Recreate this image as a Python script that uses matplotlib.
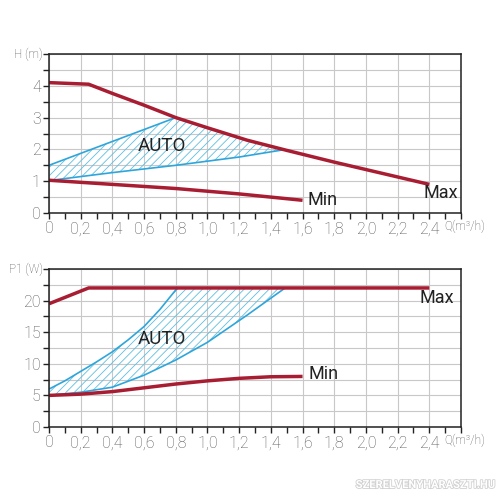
import numpy as np
from matplotlib import pyplot as plt
from matplotlib import patheffects as pe

plt.rcParams['font.family'] = ['Roboto', 'DejaVu Sans']
plt.rcParams['hatch.linewidth'] = 0.6

RED = "#a81d32"
BLUE = "#2ea6dc"
HATCH = "#5fbfe2"
GRID = "#c8c8c8"
TXT = "#555555"

# head chart
h_max_q = [0, 0.25, 0.4, 0.6, 0.8, 1.0, 1.25, 1.5, 1.8, 2.1, 2.4]
h_max = [4.1, 4.05, 3.76, 3.39, 3.0, 2.68, 2.29, 1.97, 1.6, 1.25, 0.9]
h_min_q = [0, 0.4, 0.8, 1.2, 1.6]
h_min = [1.03, 0.9, 0.77, 0.6, 0.4]
h_auto_hi_q = [0, 0.8]
h_auto_hi = [1.5, 3.0]
h_auto_lo_q = [0, 0.4, 0.8, 1.2, 1.47]
h_auto_lo = [1.02, 1.27, 1.5, 1.76, 1.98]

# power chart
p_max_q = [0, 0.25, 2.4]
p_max = [19.5, 22, 22]
p_min_q = [0, 0.2, 0.4, 0.6, 0.8, 1.0, 1.2, 1.4, 1.6]
p_min = [5.0, 5.2, 5.6, 6.2, 6.8, 7.3, 7.7, 7.95, 8.0]
p_auto_hi_q = [0, 0.1, 0.2, 0.3, 0.4, 0.5, 0.6, 0.7, 0.81]
p_auto_hi = [6.0, 7.3, 8.8, 10.3, 11.9, 13.8, 15.9, 18.6, 22.0]
p_auto_lo_q = [0, 0.2, 0.4, 0.6, 0.8, 1.0, 1.25, 1.49]
p_auto_lo = [5.0, 5.5, 6.3, 8.2, 10.6, 13.4, 17.7, 22.0]

x_ticks = np.round(np.arange(0, 2.41, 0.2), 1)
x_labels = [f"{v:.1f}".replace(".", ",") if v > 0 else "0" for v in x_ticks]


def style_axes(ax, ymax, ystep, ylab):
    ax.set_xlim(0, 2.6)
    ax.set_ylim(0, ymax)
    ax.set_xticks(x_ticks)
    ax.set_xticklabels(x_labels)
    ax.set_xticks(np.arange(0, 2.61, 0.1), minor=True)
    ax.set_yticks(np.arange(0, ymax - 0.01, ystep))
    ax.set_yticks(np.arange(0, ymax + 0.01, ystep / 2), minor=True)
    ax.grid(True, which="major", axis="x", color=GRID, lw=0.8)
    ax.grid(True, which="both", axis="y", color=GRID, lw=0.8)
    ax.set_axisbelow(True)
    ax.tick_params(which="both", direction="out", length=4, width=1,
                   colors="#222222", labelcolor=TXT, labelsize=11.5, pad=2)
    for lab in ax.get_xticklabels() + ax.get_yticklabels():
        lab.set_fontweight("light")
    for s in ax.spines.values():
        s.set_color("#222222")
        s.set_linewidth(1.1)
    ax.text(-0.015, 1.0, ylab, transform=ax.transAxes, ha="right",
            va="center", fontsize=8.5, color=TXT, fontweight="light")
    ax.text(2.495, -0.082 * ymax, "Q(m³/h)", ha="left", va="center",
            fontsize=8.5, color=TXT, fontweight="light")


fig = plt.figure(figsize=(5, 5), dpi=100)
ax1 = fig.add_axes([0.098, 0.574, 0.824, 0.318])
ax2 = fig.add_axes([0.098, 0.146, 0.824, 0.316])

# top: H(Q)
qq = np.linspace(0, 1.47, 200)
top = np.where(qq <= 0.8, np.interp(qq, h_auto_hi_q, h_auto_hi),
               np.interp(qq, h_max_q, h_max))
bot = np.interp(qq, h_auto_lo_q, h_auto_lo)
ax1.fill_between(qq, bot, top, facecolor="none", edgecolor=HATCH,
                 hatch="////", linewidth=0)
ax1.plot(h_auto_hi_q, h_auto_hi, color=BLUE, lw=1.2)
ax1.plot(h_auto_lo_q, h_auto_lo, color=BLUE, lw=1.2)
ax1.plot(h_max_q, h_max, color=RED, lw=2.5, solid_capstyle="butt")
ax1.plot(h_min_q, h_min, color=RED, lw=2.5, solid_capstyle="butt")
ax1.text(0.71, 2.1, "AUTO", fontsize=13.5, color="#222222", ha="center", va="center")
ax1.text(1.63, 0.42, "Min", fontsize=13, color="#222222", ha="left", va="center")
ax1.text(2.47, 0.62, "Max", fontsize=13, color="#222222", ha="center", va="center")
style_axes(ax1, 5, 1, "H (m)")

# bottom: P1(Q)
qq = np.linspace(0, 1.49, 200)
top = np.minimum(np.interp(qq, p_auto_hi_q, p_auto_hi, right=22), 22)
bot = np.interp(qq, p_auto_lo_q, p_auto_lo)
ax2.fill_between(qq, bot, top, facecolor="none", edgecolor=HATCH,
                 hatch="////", linewidth=0)
ax2.plot(p_auto_hi_q, p_auto_hi, color=BLUE, lw=1.2)
ax2.plot(p_auto_lo_q, p_auto_lo, color=BLUE, lw=1.2)
ax2.plot(p_max_q, p_max, color=RED, lw=2.5, solid_capstyle="butt")
ax2.plot(p_min_q, p_min, color=RED, lw=2.5, solid_capstyle="butt")
ax2.text(0.71, 13.9, "AUTO", fontsize=13.5, color="#222222", ha="center", va="center")
ax2.text(1.64, 8.4, "Min", fontsize=13, color="#222222", ha="left", va="center")
ax2.text(2.45, 20.4, "Max", fontsize=13, color="#222222", ha="center", va="center")
style_axes(ax2, 25, 5, "P1 (W)")

fig.text(0.99, 0.02, "SZERELVENYHARASZTI.HU", ha="right", va="bottom",
         fontsize=8, fontweight="bold", color="white",
         path_effects=[pe.withStroke(linewidth=1.2, foreground="#d0d0d0")])

fig.savefig("out.png", dpi=100)
